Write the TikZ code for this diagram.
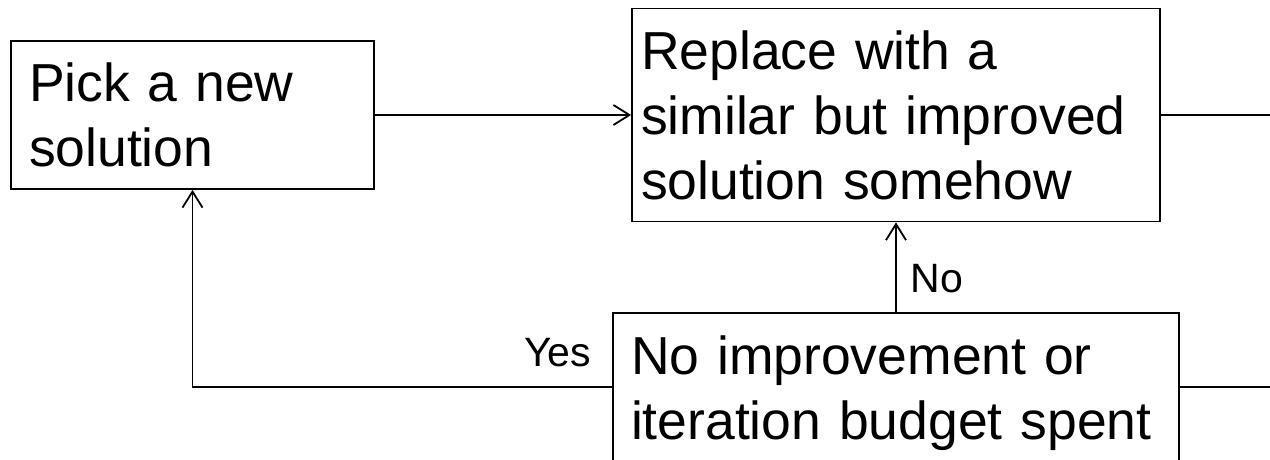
\documentclass[tikz,border=0pt]{standalone}
\usepackage{fontspec}
\setmainfont{Liberation Sans}
\usetikzlibrary{arrows.meta}
\tikzset{
  box/.style={draw=black, line width=1.8pt, align=left, anchor=center,
    font=\fontsize{53.5}{65}\selectfont, inner ysep=0pt},
  lab/.style={font=\fontsize{41}{48}\selectfont, inner sep=0pt},
  conn/.style={draw=black, line width=1.8pt},
  arr/.style={conn, -{Straight Barb[length=16pt,width=20pt,line width=1.8pt]}},
}
\begin{document}
\begin{tikzpicture}[x=1pt, y=-1pt]
\useasboundingbox (0,0) rectangle (1270,460);
\clip (0,0) rectangle (1270,460);
\fill[white] (0,0) rectangle (1270,460);
\node[box, minimum width=363pt, minimum height=148pt, inner xsep=18pt, text width=327pt] (A) at (192.5,115) {Pick a new\\solution};
\node[box, minimum width=528pt, minimum height=213pt, inner xsep=9pt, text width=510pt] (B) at (896,115) {Replace with a\\similar but improved\\solution somehow};
\node[box, minimum width=566pt, minimum height=160pt, inner xsep=18pt, text width=530pt] (C) at (896,393) {No improvement or\\iteration budget spent};
\coordinate (Bout) at (1270,115);
\coordinate (Cout) at (1270,387);
\draw[arr] (A.east) -- (A.east -| B.west);
\draw[conn] (B.east) -- (B.east -| Bout);
\draw[arr] (C.north) -- node[lab, pos=0.22, anchor=base west, xshift=14pt] {No} (B.south);
\draw[arr] ([yshift=6pt]C.west) -- node[lab, pos=0, anchor=base east, xshift=-20pt, yshift=21pt] {Yes} ([yshift=6pt]C.west -| A.south) -- (A.south);
\draw[conn] ([yshift=6pt]C.east) -- ([yshift=6pt]C.east -| Cout);
\end{tikzpicture}
\end{document}
